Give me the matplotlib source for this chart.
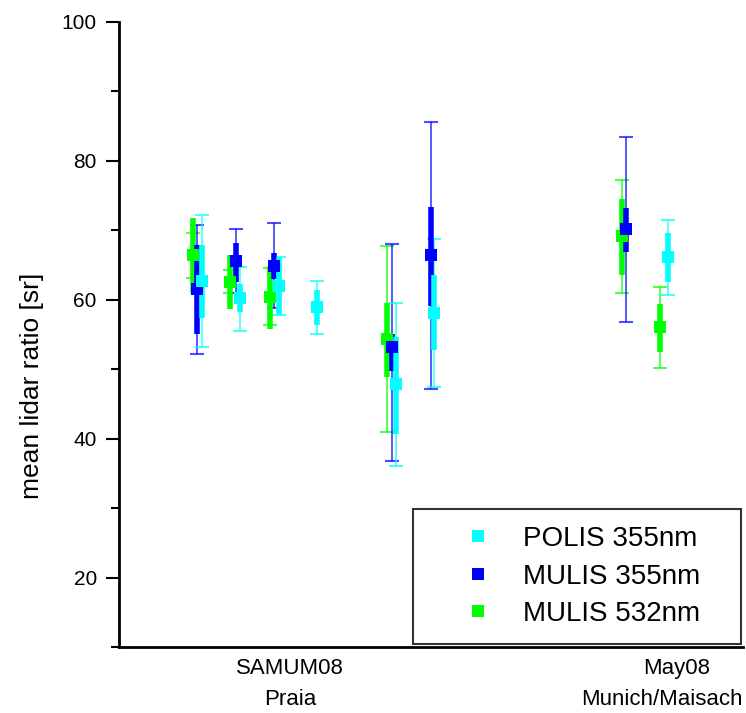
import matplotlib
matplotlib.use("Agg")
import matplotlib.pyplot as plt
from matplotlib.lines import Line2D

plt.rcParams['font.family'] = ['Liberation Sans', 'DejaVu Sans']

campaign_names = ['SAMUM08', 'May08']
campaign_sites = ['Praia', 'Munich/Maisach']
campaign_pos = [1, 2]

# POLIS 355nm
polis_x = [0.773, 0.871, 0.972, 1.070, 1.274, 1.372, 1.977]
polis_v = [62.7, 60.3, 62.0, 59.0, 47.8, 58.1, 66.2]
polis_sd_lo = [57.4, 58.3, 57.8, 56.4, 40.7, 52.8, 62.6]
polis_sd_hi = [67.9, 62.2, 66.2, 61.4, 54.7, 63.5, 69.6]
polis_rg_lo = [53.2, 55.5, 57.8, 55.1, 36.0, 47.5, 60.7]
polis_rg_hi = [72.2, 64.7, 66.2, 62.7, 59.6, 68.7, 71.5]

# MULIS 355nm
mulis355_x = [0.760, 0.860, 0.959, 1.264, 1.364, 1.868]
mulis355_v = [61.6, 65.6, 64.9, 53.2, 66.5, 70.2]
mulis355_sd_lo = [55.0, 62.6, 63.0, 49.8, 59.1, 66.9]
mulis355_sd_hi = [67.9, 68.2, 66.8, 55.1, 73.4, 73.2]
mulis355_rg_lo = [52.2, 60.9, 58.8, 36.8, 47.2, 56.8]
mulis355_rg_hi = [70.7, 70.2, 71.0, 68.0, 85.6, 83.5]

# MULIS 532nm
mulis532_x = [0.749, 0.845, 0.948, 1.251, 1.858, 1.956]
mulis532_v = [66.5, 62.6, 60.4, 54.4, 69.2, 56.1]
mulis532_sd_lo = [61.0, 58.6, 55.8, 48.9, 63.5, 52.5]
mulis532_sd_hi = [71.7, 66.5, 64.9, 59.6, 74.5, 59.4]
mulis532_rg_lo = [63.2, 60.9, 56.3, 40.9, 60.9, 50.1]
mulis532_rg_hi = [69.6, 64.3, 64.6, 67.8, 77.3, 61.9]

series = [
    ('MULIS 532nm', '#00ff00', mulis532_x, mulis532_v, mulis532_sd_lo, mulis532_sd_hi, mulis532_rg_lo, mulis532_rg_hi),
    ('MULIS 355nm', '#0000ff', mulis355_x, mulis355_v, mulis355_sd_lo, mulis355_sd_hi, mulis355_rg_lo, mulis355_rg_hi),
    ('POLIS 355nm', '#00ffff', polis_x, polis_v, polis_sd_lo, polis_sd_hi, polis_rg_lo, polis_rg_hi),
]

fig = plt.figure(figsize=(7.46, 7.13), dpi=100)
ax = fig.add_axes([0.1595, 0.0926, 0.8365, 0.8766])

for name, col, x, v, slo, shi, rlo, rhi in series:
    # thin range bars with caps
    ax.errorbar(x, v, yerr=[[a - b for a, b in zip(v, rlo)], [b - a for a, b in zip(v, rhi)]],
                fmt='none', ecolor=col, elinewidth=1.3, capsize=5, capthick=1.5, alpha=0.7, zorder=2)
    # thick std bars
    ax.errorbar(x, v, yerr=[[a - b for a, b in zip(v, slo)], [b - a for a, b in zip(v, shi)]],
                fmt='none', ecolor=col, elinewidth=4, capsize=0, zorder=3)
    ax.plot(x, v, 's', color=col, markersize=9, markeredgewidth=0, zorder=4)

ax.set_xlim(0.558, 2.171)
ax.set_ylim(10, 100)
ax.set_yticks([20, 40, 60, 80, 100])
ax.set_yticks([10, 30, 50, 70, 90], minor=True)
ax.set_xticks(campaign_pos)
ax.set_xticklabels(campaign_names, fontsize=16)
ax.tick_params(axis='x', length=0, pad=8)
ax.tick_params(axis='y', which='major', length=9.5, width=1.5, labelsize=15, pad=6.5)
ax.tick_params(axis='y', which='minor', length=5.5, width=1.5)
ax.spines['top'].set_visible(False)
ax.spines['right'].set_visible(False)
ax.spines['left'].set_linewidth(2)
ax.spines['bottom'].set_linewidth(2)
ax.set_ylabel('mean lidar ratio [sr]', fontsize=19)
ax.yaxis.set_label_coords(-0.12, 0.418)

# second line of the category labels
ax.annotate(campaign_sites[0], xy=(campaign_pos[0], 0), xycoords=('data', 'axes fraction'),
            xytext=(0, -30), textcoords='offset points', ha='center', va='top', fontsize=16)
ax.annotate(campaign_sites[1], xy=(1.0, 0), xycoords='axes fraction',
            xytext=(0, -30), textcoords='offset points', ha='right', va='top', fontsize=16)

handles = [Line2D([], [], ls='none', marker='s', markersize=9, markeredgewidth=0, color=c)
           for c in ['#00ffff', '#0000ff', '#00ff00']]
leg = ax.legend(handles, ['POLIS 355nm', 'MULIS 355nm', 'MULIS 532nm'], loc='lower left',
                bbox_to_anchor=(0.471, 0.005, 0.526, 0.219), mode='expand', frameon=True,
                fancybox=False, borderpad=0.6, labelspacing=0.42, handlelength=3.47,
                handletextpad=-0.1, borderaxespad=0, prop={'size': 20})
leg.get_frame().set_edgecolor('black')
leg.get_frame().set_linewidth(1.5)

fig.savefig('out.png', dpi=100)
